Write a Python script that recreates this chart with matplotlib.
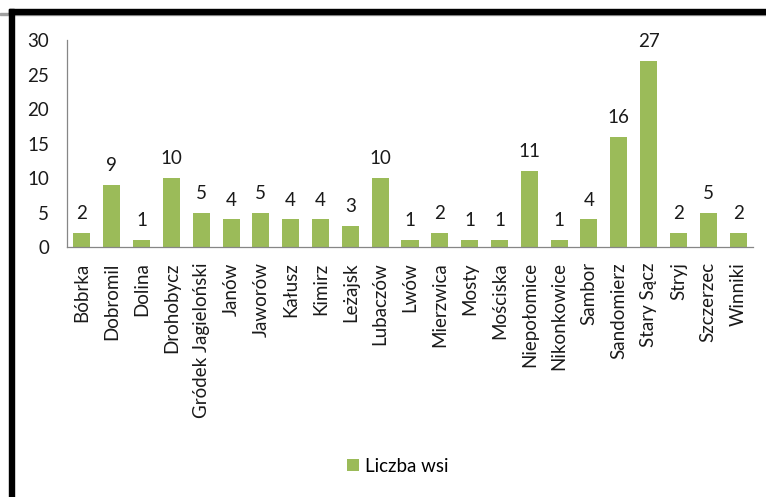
import matplotlib.pyplot as plt
from matplotlib.patches import Rectangle

# data
towns = ['Bóbrka', 'Dobromil', 'Dolina', 'Drohobycz', 'Gródek Jagieloński',
         'Janów', 'Jaworów', 'Kałusz', 'Kimirz', 'Leżajsk', 'Lubaczów', 'Lwów',
         'Mierzwica', 'Mosty', 'Mościska', 'Niepołomice', 'Nikonkowice',
         'Sambor', 'Sandomierz', 'Stary Sącz', 'Stryj', 'Szczerzec', 'Winniki']
villages = [2, 9, 1, 10, 5, 4, 5, 4, 4, 3, 10, 1, 2, 1, 1, 11, 1, 4, 16, 27, 2, 5, 2]
y_ticks = [0, 5, 10, 15, 20, 25, 30]
series_name = 'Liczba wsi'

GREEN = '#9BBB59'
AXIS = '#868686'
TXT = '#1a1a1a'
FS = 13.5

plt.rcParams['font.family'] = ['Lato', 'DejaVu Sans']

W, H = 766, 497
fig = plt.figure(figsize=(W / 100, H / 100), dpi=100)

# plot area in pixels: x 67..753, y 40..247
ax = fig.add_axes([67 / W, 1 - 247 / H, (753 - 67) / W, (247 - 40) / H])

x = list(range(len(towns)))
bars = ax.bar(x, villages, width=0.57, color=GREEN)
for b, v in zip(bars, villages):
    ax.annotate(str(v), (b.get_x() + b.get_width() / 2, v),
                xytext=(0, 10), textcoords='offset points',
                ha='center', va='baseline', fontsize=FS, color=TXT)

ax.set_xlim(-0.5, len(towns) - 0.5)
ax.set_ylim(0, 30)
ax.set_yticks(y_ticks)
ax.set_xticks(x)
ax.set_xticklabels(towns, rotation=90, fontsize=FS, color=TXT)
ax.tick_params(axis='both', length=0, labelsize=FS, labelcolor=TXT)
ax.tick_params(axis='x', pad=11)
ax.tick_params(axis='y', pad=13)

for s in ['top', 'right']:
    ax.spines[s].set_visible(False)
for s in ['left', 'bottom']:
    ax.spines[s].set_color(AXIS)
    ax.spines[s].set_linewidth(0.9)

leg = fig.legend([bars[0]], [series_name], loc='center',
                 bbox_to_anchor=(398 / W, 1 - 466 / H), frameon=False,
                 fontsize=FS, handlelength=0.6, handleheight=0.6,
                 handletextpad=0.35)

# frame: thick black line on top and left with a light shadow
fig.patches.append(Rectangle((0, 1 - 15 / H), 1, 2 / H, transform=fig.transFigure,
                             color='#a0a0a0', zorder=5))
fig.patches.append(Rectangle((9 / W, 1 - 14 / H), 1, 5 / H, transform=fig.transFigure,
                             color='black', zorder=6))
fig.patches.append(Rectangle((9 / W, 0), 5 / W, 1 - 9 / H, transform=fig.transFigure,
                             color='black', zorder=6))

fig.savefig('out.png', dpi=100)
